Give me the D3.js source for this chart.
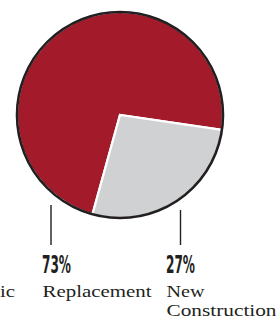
<!DOCTYPE html>
<html><head><meta charset="utf-8">
<script src="https://cdn.jsdelivr.net/npm/d3@7"></script>
<style>html,body{margin:0;padding:0;background:#fff;overflow:hidden}</style>
</head><body>
<script>
const categories = ["Replacement", "New Construction"];
const values = [73, 27];
const pctLabels = ["73%", "27%"];
const nameLines = [["Replacement"], ["New", "Construction"]];
const cutLabel = "ic";

const W = 278, H = 322;
const svg = d3.select("body").append("svg").attr("width", W).attr("height", H);
const cx = 120, cy = 115, R = 103;
const deg = Math.PI / 180;
const start = -164.5 * deg;
const pie = d3.pie().sort(null).startAngle(start).endAngle(start + 2 * Math.PI);
const arcs = pie(values);
const arc = d3.arc().innerRadius(0).outerRadius(R);
const colors = d3.scaleOrdinal().domain(categories).range(["#a31b2a", "#d0d1d3"]);
const g = svg.append("g").attr("transform", `translate(${cx},${cy})`);
g.selectAll("path.slice").data(arcs).join("path")
  .attr("class", "slice")
  .attr("d", arc)
  .attr("fill", (d, i) => colors(categories[i]))
  .attr("stroke", "#fff").attr("stroke-width", 2.2).attr("stroke-linejoin", "miter");
g.append("circle").attr("r", R).attr("fill", "none").attr("stroke", "#231f20").attr("stroke-width", 2.6);

const ink = "#231f20";
const lineX = [51, 180.5];
const lineTop = [205, 210];
const textX = [42, 166];
const serifSize = 16.8;
categories.forEach((c, i) => {
  svg.append("line").attr("x1", lineX[i]).attr("x2", lineX[i]).attr("y1", lineTop[i]).attr("y2", 245)
    .attr("stroke", ink).attr("stroke-width", 1.4);
  svg.append("text").attr("x", textX[i]).attr("y", 273)
    .attr("font-family", "'Liberation Sans Narrow', 'DejaVu Sans Condensed', sans-serif")
    .attr("font-weight", "bold").attr("font-size", 25).attr("fill", ink)
    .attr("textLength", 29).attr("lengthAdjust", "spacingAndGlyphs")
    .text(pctLabels[i]);
  const lens = i === 0 ? [109] : [38, 110];
  nameLines[i].forEach((t, j) => {
    svg.append("text").attr("x", textX[i] + 0.5).attr("y", 297 + j * 18.6)
      .attr("font-family", "'Liberation Serif', 'DejaVu Serif', serif")
      .attr("font-size", serifSize).attr("fill", ink)
      .attr("textLength", lens[j]).attr("lengthAdjust", "spacingAndGlyphs")
      .text(t);
  });
});
svg.append("text").attr("x", 0).attr("y", 297)
  .attr("font-family", "'Liberation Serif', 'DejaVu Serif', serif")
  .attr("font-size", serifSize).attr("fill", ink)
  .attr("textLength", 15).attr("lengthAdjust", "spacingAndGlyphs").text(cutLabel);
</script>
</body></html>
